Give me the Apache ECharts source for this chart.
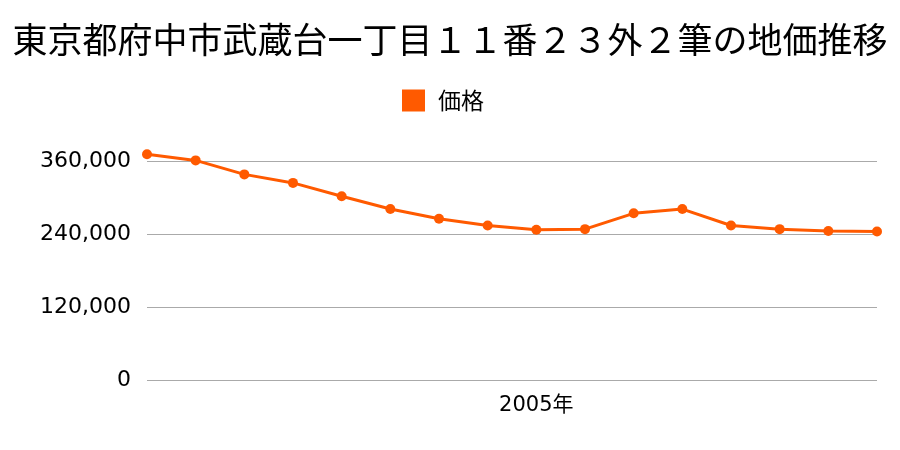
<!DOCTYPE html>
<html><head><meta charset="utf-8">
<script src="https://cdn.jsdelivr.net/npm/echarts@6/dist/echarts.min.js"></script>
<style>html,body{margin:0;padding:0;background:#fff}#c{width:900px;height:450px}</style>
</head><body><div id="c"></div>
<script>
const titleText = '東京都府中市武蔵台一丁目１１番２３外２筆の地価推移';
const seriesName = '価格';
const categories = ['1997','1998','1999','2000','2001','2002','2003','2004','2005','2006','2007','2008','2009','2010','2011','2012'];
const shownLabel = '2005';
const prices = [371000, 361000, 338000, 324000, 302000, 281000, 265000, 254000, 247000, 248000, 274000, 281000, 254000, 248000, 245000, 244000];
const yTicks = [0, 120000, 240000, 360000];

const font = '"Noto Sans CJK JP", "Noto Sans", sans-serif';
const numFont = '"DejaVu Sans", "Noto Sans CJK JP", sans-serif';
const chart = echarts.init(document.getElementById('c'), null, {renderer: 'canvas'});
chart.setOption({
  animation: false,
  backgroundColor: '#fff',
  title: {
    text: titleText, left: 'center', top: 17,
    textStyle: {fontFamily: font, fontSize: 35, fontWeight: 'normal', color: '#000'}
  },
  legend: {
    data: [seriesName], top: 84, left: 397,
    itemWidth: 23, itemHeight: 22, itemGap: 12,
    icon: 'rect',
    textStyle: {fontFamily: font, fontSize: 23, color: '#000', padding: [0, 0, 0, 8]}
  },
  grid: {left: 147, right: 23, top: 161, bottom: 70, containLabel: false},
  xAxis: {
    type: 'category', data: categories, boundaryGap: false,
    axisLine: {show: false}, axisTick: {show: false},
    axisLabel: {
      interval: 0, margin: 15,
      formatter: v => v === shownLabel ? v + '年' : '',
      fontFamily: numFont, fontSize: 21, color: '#000'
    },
    splitLine: {show: false}
  },
  yAxis: {
    type: 'value', min: yTicks[0], max: yTicks[yTicks.length - 1], interval: 120000,
    axisLine: {show: false},
    axisTick: {show: false},
    axisLabel: {
      margin: 16, fontFamily: numFont, fontSize: 22, color: '#000',
      formatter: v => v.toLocaleString('en-US')
    },
    splitLine: {lineStyle: {color: '#aaaaaa', width: 1}}
  },
  series: [{
    name: seriesName, type: 'line', data: prices, clip: false,
    symbol: 'circle', symbolSize: 10,
    itemStyle: {color: '#FF5A00'},
    lineStyle: {color: '#FF5A00', width: 3}
  }]
});
</script></body></html>
